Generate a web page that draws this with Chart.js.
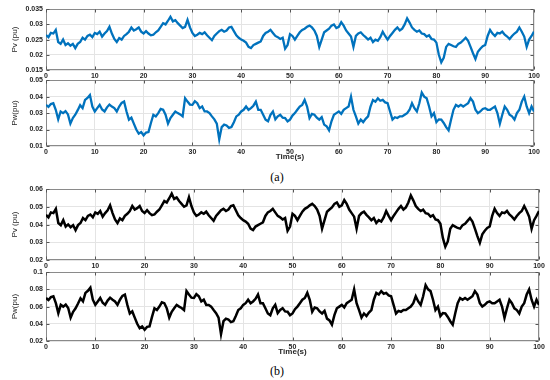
<!DOCTYPE html>
<html><head><meta charset="utf-8">
<script src="https://cdn.jsdelivr.net/npm/chart.js@4.4.1/dist/chart.umd.min.js"></script>
<style>
html,body{margin:0;padding:0;background:#fff;width:550px;height:380px;overflow:hidden;position:relative}
canvas{position:absolute;left:0}
.cap{position:absolute;font-family:"Liberation Serif","DejaVu Serif",serif;font-size:12px;color:#000;transform:translate(-50%,-50%);white-space:nowrap}
</style></head><body>
<canvas id="c1" width="550" height="78" style="top:2px"></canvas>
<canvas id="c2" width="550" height="89" style="top:73px"></canvas>
<div class="cap" style="left:277px;top:177px">(a)</div>
<canvas id="c3" width="550" height="90" style="top:182px"></canvas>
<canvas id="c4" width="550" height="92" style="top:265px"></canvas>
<div class="cap" style="left:277px;top:371px">(b)</div>
<script>
// time axis: samples every 0.5 s from 0 to 100 s
const timeStep = 0.5;
const xTicks = [0,10,20,30,40,50,60,70,80,90,100];

// (a) PV power (pu)
const pvA = [
0.0265,0.0258,0.0272,0.0270,0.0282,0.0242,0.0236,0.0250,0.0232,0.0238,
0.0230,0.0236,0.0222,0.0236,0.0242,0.0256,0.0250,0.0262,0.0266,0.0258,
0.0272,0.0268,0.0276,0.0260,0.0270,0.0278,0.0292,0.0270,0.0252,0.0242,
0.0255,0.0250,0.0262,0.0268,0.0276,0.0290,0.0280,0.0284,0.0290,0.0276,
0.0270,0.0278,0.0270,0.0264,0.0266,0.0274,0.0280,0.0292,0.0304,0.0300,
0.0312,0.0325,0.0310,0.0314,0.0304,0.0296,0.0288,0.0292,0.0315,0.0290,
0.0272,0.0262,0.0266,0.0272,0.0268,0.0274,0.0264,0.0256,0.0248,0.0262,
0.0270,0.0278,0.0282,0.0276,0.0280,0.0290,0.0292,0.0278,0.0264,0.0256,
0.0250,0.0246,0.0240,0.0226,0.0222,0.0232,0.0236,0.0240,0.0244,0.0262,
0.0272,0.0276,0.0282,0.0272,0.0262,0.0258,0.0252,0.0256,0.0220,0.0232,
0.0268,0.0262,0.0250,0.0262,0.0274,0.0282,0.0286,0.0292,0.0296,0.0290,
0.0280,0.0262,0.0226,0.0250,0.0274,0.0280,0.0286,0.0296,0.0300,0.0288,
0.0292,0.0307,0.0296,0.0280,0.0270,0.0260,0.0226,0.0262,0.0270,0.0274,
0.0265,0.0258,0.0250,0.0256,0.0242,0.0250,0.0246,0.0258,0.0276,0.0262,
0.0250,0.0262,0.0272,0.0282,0.0290,0.0280,0.0286,0.0300,0.0320,0.0306,
0.0290,0.0282,0.0276,0.0280,0.0270,0.0268,0.0260,0.0264,0.0252,0.0250,
0.0240,0.0200,0.0175,0.0190,0.0226,0.0236,0.0232,0.0228,0.0226,0.0236,
0.0240,0.0248,0.0256,0.0246,0.0226,0.0205,0.0186,0.0210,0.0220,0.0228,
0.0232,0.0262,0.0282,0.0270,0.0262,0.0272,0.0270,0.0276,0.0266,0.0260,
0.0252,0.0262,0.0270,0.0276,0.0290,0.0276,0.0260,0.0226,0.0250,0.0262,
0.0276];

// (a) wind power (pu)
const pwA = [
0.0350,0.0338,0.0355,0.0360,0.0320,0.0262,0.0310,0.0300,0.0312,0.0292,
0.0236,0.0270,0.0290,0.0318,0.0348,0.0330,0.0380,0.0392,0.0410,0.0340,
0.0310,0.0330,0.0350,0.0322,0.0310,0.0335,0.0352,0.0340,0.0330,0.0310,
0.0340,0.0362,0.0370,0.0310,0.0260,0.0272,0.0236,0.0200,0.0175,0.0185,
0.0165,0.0182,0.0185,0.0240,0.0290,0.0280,0.0300,0.0325,0.0320,0.0290,
0.0236,0.0270,0.0290,0.0310,0.0300,0.0292,0.0280,0.0390,0.0370,0.0352,
0.0350,0.0372,0.0360,0.0330,0.0340,0.0310,0.0310,0.0300,0.0280,0.0262,
0.0236,0.0140,0.0215,0.0230,0.0225,0.0210,0.0215,0.0245,0.0280,0.0290,
0.0310,0.0320,0.0340,0.0320,0.0330,0.0345,0.0370,0.0320,0.0320,0.0290,
0.0260,0.0250,0.0290,0.0310,0.0262,0.0280,0.0290,0.0272,0.0270,0.0250,
0.0260,0.0285,0.0300,0.0320,0.0340,0.0350,0.0380,0.0340,0.0270,0.0295,
0.0290,0.0272,0.0260,0.0275,0.0230,0.0220,0.0195,0.0250,0.0290,0.0300,
0.0310,0.0295,0.0320,0.0330,0.0340,0.0400,0.0320,0.0280,0.0236,0.0260,
0.0245,0.0265,0.0280,0.0340,0.0380,0.0370,0.0390,0.0375,0.0380,0.0365,
0.0360,0.0310,0.0260,0.0275,0.0270,0.0280,0.0280,0.0290,0.0300,0.0320,
0.0360,0.0330,0.0310,0.0360,0.0425,0.0400,0.0390,0.0340,0.0280,0.0300,
0.0245,0.0262,0.0260,0.0240,0.0215,0.0195,0.0260,0.0320,0.0350,0.0340,
0.0350,0.0340,0.0350,0.0360,0.0390,0.0370,0.0320,0.0300,0.0310,0.0325,
0.0330,0.0320,0.0320,0.0330,0.0340,0.0300,0.0235,0.0290,0.0340,0.0320,
0.0290,0.0280,0.0260,0.0300,0.0320,0.0370,0.0400,0.0340,0.0300,0.0340,
0.0310];

// (b) PV power (pu)
const pvB = [
0.0455,0.0441,0.0469,0.0465,0.0489,0.0409,0.0397,0.0425,0.0389,0.0401,
0.0385,0.0397,0.0369,0.0397,0.0409,0.0437,0.0425,0.0449,0.0457,0.0441,
0.0469,0.0461,0.0477,0.0445,0.0465,0.0481,0.0509,0.0465,0.0429,0.0409,
0.0435,0.0425,0.0449,0.0461,0.0477,0.0505,0.0485,0.0493,0.0505,0.0477,
0.0465,0.0481,0.0465,0.0453,0.0457,0.0473,0.0485,0.0509,0.0533,0.0525,
0.0549,0.0575,0.0545,0.0553,0.0533,0.0517,0.0501,0.0509,0.0555,0.0505,
0.0469,0.0449,0.0457,0.0469,0.0461,0.0473,0.0453,0.0437,0.0421,0.0449,
0.0465,0.0481,0.0489,0.0477,0.0485,0.0505,0.0509,0.0481,0.0453,0.0437,
0.0425,0.0417,0.0405,0.0377,0.0369,0.0389,0.0397,0.0405,0.0413,0.0449,
0.0469,0.0477,0.0489,0.0469,0.0449,0.0441,0.0429,0.0437,0.0365,0.0389,
0.0461,0.0449,0.0425,0.0449,0.0473,0.0489,0.0497,0.0509,0.0517,0.0505,
0.0485,0.0449,0.0377,0.0425,0.0473,0.0485,0.0497,0.0517,0.0525,0.0501,
0.0509,0.0539,0.0517,0.0485,0.0465,0.0445,0.0377,0.0449,0.0465,0.0473,
0.0455,0.0441,0.0425,0.0437,0.0409,0.0425,0.0417,0.0441,0.0477,0.0449,
0.0425,0.0449,0.0469,0.0489,0.0505,0.0485,0.0497,0.0525,0.0565,0.0537,
0.0505,0.0489,0.0477,0.0485,0.0465,0.0461,0.0445,0.0453,0.0429,0.0425,
0.0405,0.0325,0.0275,0.0305,0.0377,0.0397,0.0389,0.0381,0.0377,0.0397,
0.0405,0.0421,0.0437,0.0417,0.0377,0.0335,0.0297,0.0345,0.0365,0.0381,
0.0389,0.0449,0.0489,0.0465,0.0449,0.0469,0.0465,0.0477,0.0457,0.0445,
0.0429,0.0449,0.0465,0.0477,0.0505,0.0477,0.0445,0.0377,0.0425,0.0449,
0.0477];

// (b) wind power (pu)
const pwB = [
0.0700,0.0676,0.0710,0.0720,0.0640,0.0524,0.0620,0.0600,0.0624,0.0584,
0.0472,0.0540,0.0580,0.0636,0.0696,0.0660,0.0760,0.0784,0.0820,0.0680,
0.0620,0.0660,0.0700,0.0644,0.0620,0.0670,0.0704,0.0680,0.0660,0.0620,
0.0680,0.0724,0.0740,0.0620,0.0520,0.0544,0.0472,0.0400,0.0350,0.0370,
0.0330,0.0364,0.0370,0.0480,0.0580,0.0560,0.0600,0.0650,0.0640,0.0580,
0.0472,0.0540,0.0580,0.0620,0.0600,0.0584,0.0560,0.0780,0.0740,0.0704,
0.0700,0.0744,0.0720,0.0660,0.0680,0.0620,0.0620,0.0600,0.0560,0.0524,
0.0472,0.0280,0.0430,0.0460,0.0450,0.0420,0.0430,0.0490,0.0560,0.0580,
0.0620,0.0640,0.0680,0.0640,0.0660,0.0690,0.0740,0.0640,0.0640,0.0580,
0.0520,0.0500,0.0580,0.0620,0.0524,0.0560,0.0580,0.0544,0.0540,0.0500,
0.0520,0.0570,0.0600,0.0640,0.0680,0.0700,0.0760,0.0680,0.0540,0.0590,
0.0580,0.0544,0.0520,0.0550,0.0460,0.0440,0.0390,0.0500,0.0580,0.0600,
0.0620,0.0590,0.0640,0.0660,0.0680,0.0800,0.0640,0.0560,0.0472,0.0520,
0.0490,0.0530,0.0560,0.0680,0.0760,0.0740,0.0780,0.0750,0.0760,0.0730,
0.0720,0.0620,0.0520,0.0550,0.0540,0.0560,0.0560,0.0580,0.0600,0.0640,
0.0720,0.0660,0.0620,0.0720,0.0850,0.0800,0.0780,0.0680,0.0560,0.0600,
0.0490,0.0524,0.0520,0.0480,0.0430,0.0390,0.0520,0.0640,0.0700,0.0680,
0.0700,0.0680,0.0700,0.0720,0.0780,0.0740,0.0640,0.0600,0.0620,0.0650,
0.0660,0.0640,0.0640,0.0660,0.0680,0.0600,0.0470,0.0580,0.0680,0.0640,
0.0580,0.0560,0.0520,0.0600,0.0640,0.0740,0.0800,0.0680,0.0600,0.0680,
0.0620];

const pvATicks = [0.015,0.02,0.025,0.03,0.035];
const pwATicks = [0.01,0.02,0.03,0.04,0.05];
const pvBTicks = [0.02,0.03,0.04,0.05,0.06];
const pwBTicks = [0.02,0.04,0.06,0.08,0.1];

const blue = '#0072BD';
const black = '#000000';

// Matlab-like box with inward tick marks, drawn from the chart's own scales
const framePlugin = {
  id: 'frame',
  beforeDatasetsDraw(chart) {
    const {ctx, chartArea: a, scales} = chart;
    const L = Math.round(a.left) + 0.5, T = Math.round(a.top) + 0.5;
    const R = Math.round(a.right) - 0.5, B = Math.round(a.bottom) - 0.5;
    ctx.save();
    ctx.strokeStyle = '#8a8a8a';
    ctx.lineWidth = 1;
    ctx.strokeRect(L, T, R - L, B - T);
    ctx.strokeStyle = '#555';
    ctx.beginPath();
    scales.x.ticks.forEach(t => {
      const px = Math.round(scales.x.getPixelForValue(t.value)) + 0.5;
      ctx.moveTo(px, B); ctx.lineTo(px, B - 3);
      ctx.moveTo(px, T); ctx.lineTo(px, T + 3);
    });
    scales.y.ticks.forEach(t => {
      const py = Math.round(scales.y.getPixelForValue(t.value)) + 0.5;
      ctx.moveTo(L, py); ctx.lineTo(L + 3, py);
      ctx.moveTo(R, py); ctx.lineTo(R - 3, py);
    });
    ctx.stroke();
    ctx.restore();
  }
};

const tickFont = {family: '"Liberation Sans", Arial, sans-serif', size: 7, weight: 'bold'};

function makeChart(id, values, yTicks, color, yTitle, timeTitle, xAxisH, padRight, lw) {
  const pts = values.map((v, i) => ({x: i * timeStep, y: v}));
  new Chart(document.getElementById(id), {
    type: 'line',
    data: {datasets: [{data: pts, borderColor: color, borderWidth: lw,
      pointRadius: 0, tension: 0, fill: false, borderJoinStyle: 'miter'}]},
    options: {
      responsive: false, animation: false, devicePixelRatio: 1,
      layout: {padding: {left: 10, top: 6, right: padRight, bottom: 0}},
      plugins: {legend: {display: false}, tooltip: {enabled: false}},
      scales: {
        x: {
          type: 'linear', min: 0, max: 100,
          afterBuildTicks: s => { s.ticks = xTicks.map(v => ({value: v})); },
          afterFit: s => { s.height = xAxisH; },
          grid: {color: '#e4e4e4', drawTicks: false},
          border: {display: false},
          ticks: {font: tickFont, color: '#262626', padding: 2, maxRotation: 0,
            callback: v => String(v)},
          title: {display: !!timeTitle, text: timeTitle || '', color: '#262626',
            font: {family: '"Liberation Sans", Arial, sans-serif', size: 8, weight: 'bold'},
            padding: {top: 0, bottom: 0}}
        },
        y: {
          min: yTicks[0], max: yTicks[yTicks.length - 1],
          afterBuildTicks: s => { s.ticks = yTicks.map(v => ({value: v})); },
          afterFit: s => { s.width = 36; },
          grid: {color: '#e4e4e4', drawTicks: false},
          border: {display: false},
          ticks: {font: tickFont, color: '#262626', padding: 3,
            callback: v => String(+Number(v).toFixed(3))},
          title: {display: true, text: yTitle, color: '#262626',
            font: {family: '"Liberation Sans", Arial, sans-serif', size: 8},
            padding: {top: 0, bottom: 0}}
        }
      }
    },
    plugins: [framePlugin]
  });
}

makeChart('c1', pvA, pvATicks, blue, 'Pv (pu)', null, 10, 16, 2.3);
makeChart('c2', pwA, pwATicks, blue, 'Pw(pu)', 'Time(s)', 16, 16, 2.3);
makeChart('c3', pvB, pvBTicks, black, 'Pv (pu)', null, 12, 11, 2.5);
makeChart('c4', pwB, pwBTicks, black, 'Pw(pu)', 'Time(s)', 16, 11, 2.5);
</script>
</body></html>
